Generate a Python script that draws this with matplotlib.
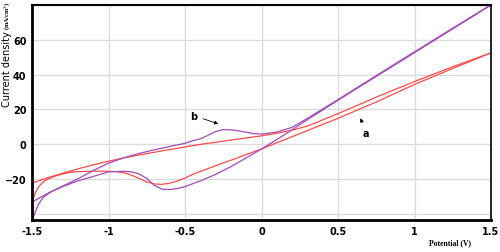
import numpy as np
import matplotlib
matplotlib.use("Agg")
import matplotlib.pyplot as plt

# curve a (red): forward scan -1.5 -> 1.5, then reverse 1.5 -> -1.5
a_fwd_x = [-1.5, -1.4, -1.3, -1.2, -1.1, -1.0, -0.9, -0.8, -0.7, -0.6, -0.5, -0.4,
           -0.3, -0.2, -0.1, 0.0, 0.1, 0.2, 0.3, 0.5, 0.75, 1.0, 1.25, 1.5]
a_fwd_y = [-22.5, -19.5, -16.8, -14.3, -12.0, -9.9, -8.0, -6.3, -4.7, -3.2, -1.7, -0.2,
           1.0, 2.3, 3.5, 4.7, 6.2, 8.0, 10.3, 17.5, 27.0, 36.0, 44.5, 52.5]
a_rev_x = [1.5, 1.25, 1.0, 0.75, 0.5, 0.25, 0.0, -0.1, -0.2, -0.3, -0.4, -0.45, -0.5,
           -0.55, -0.6, -0.65, -0.7, -0.75, -0.8, -0.85, -0.9, -0.95, -1.0, -1.1, -1.2,
           -1.25, -1.3, -1.35, -1.4, -1.43, -1.46, -1.48, -1.5]
a_rev_y = [52.5, 43.5, 34.3, 24.2, 14.8, 6.0, -2.8, -6.1, -9.3, -12.5, -15.8, -17.5, -19.6,
           -21.3, -22.6, -23.2, -23.0, -21.8, -19.8, -17.9, -16.5, -15.9, -15.7, -15.6, -15.9,
           -16.3, -17.2, -18.5, -20.3, -22.0, -25.0, -28.5, -33.4]

# curve b (purple)
b_fwd_x = [-1.5, -1.4, -1.3, -1.2, -1.1, -1.0, -0.9, -0.8, -0.7, -0.6, -0.5, -0.45,
           -0.4, -0.35, -0.3, -0.25, -0.2, -0.15, -0.1, -0.05, 0.0, 0.1, 0.2, 0.3,
           0.5, 0.75, 1.0, 1.25, 1.5]
b_fwd_y = [-33.4, -28.5, -24.2, -20.0, -15.3, -11.0, -7.9, -5.4, -3.3, -1.4, 0.4, 1.9,
           3.0, 5.0, 7.2, 8.3, 8.2, 7.6, 6.8, 6.0, 5.7, 6.9, 9.6, 14.8,
           25.6, 39.4, 53.1, 66.7, 80.2]
b_rev_x = [1.5, 1.25, 1.0, 0.75, 0.5, 0.3, 0.2, 0.1, 0.0, -0.1, -0.2, -0.3, -0.4,
           -0.5, -0.55, -0.6, -0.65, -0.7, -0.75, -0.8, -0.85, -0.9, -1.0, -1.1,
           -1.2, -1.3, -1.38, -1.43, -1.46, -1.48, -1.5]
b_rev_y = [80.0, 66.3, 52.6, 38.9, 25.2, 14.0, 8.2, 2.6, -2.9, -8.0, -13.0, -17.5, -21.2,
           -24.5, -25.6, -26.2, -26.0, -23.8, -19.8, -17.2, -16.0, -15.7, -16.0, -18.7,
           -21.2, -24.5, -27.7, -31.0, -35.0, -39.5, -44.0]

x_ticks = [-1.5, -1, -0.5, 0, 0.5, 1, 1.5]
x_labels = ["-1.5", "-1", "-0.5", "0", "0.5", "1", "1.5"]
y_ticks = [-20, 0, 20, 40, 60]

red = "#ff4a4a"
purple = "#a24bb8"

fig = plt.figure(figsize=(5.0, 2.53), dpi=100)
ax = fig.add_axes([0.064, 0.126, 0.918, 0.85])

ax.plot(a_fwd_x, a_fwd_y, color=red, lw=0.9)
ax.plot(a_rev_x, a_rev_y, color=red, lw=0.9)
ax.plot(b_fwd_x, b_fwd_y, color=purple, lw=0.9)
ax.plot(b_rev_x, b_rev_y, color=purple, lw=0.9)

ax.set_xlim(-1.5, 1.5)
ax.set_ylim(-43.8, 80)
ax.set_xticks(x_ticks)
ax.set_xticklabels(x_labels)
ax.set_yticks(y_ticks)
ax.set_yticks([-40, 80], minor=True)
ax.grid(True, which="both", color="#dcdcdc", lw=1)
ax.set_axisbelow(True)
ax.tick_params(which="both", length=0, labelsize=7, pad=4)
for lab in ax.get_xticklabels() + ax.get_yticklabels():
    lab.set_fontweight("bold")

ax.spines["left"].set_linewidth(2)
ax.spines["bottom"].set_linewidth(2)
ax.spines["top"].set_linewidth(1.5)
ax.spines["right"].set_linewidth(1.2)

# labels
fig.text(7 / 500, 1 - 2 / 253, "(mA/cm$^2$)", rotation=90, ha="center", va="top",
         fontsize=4.5, family="Liberation Serif", fontweight="bold")
fig.text(7 / 500, 1 - 31 / 253, "Current density", rotation=90, ha="center", va="top",
         fontsize=7)
fig.text(450 / 500, 1 - 243 / 253, "Potential (V)", ha="center", va="center",
         fontsize=5.5, family="Liberation Serif", fontweight="bold")

arrow = dict(arrowstyle="-|>", color="black", lw=0.6, mutation_scale=5)
ax.annotate("b", xy=(-0.265, 11.1), xytext=(-0.44, 16.3), fontsize=7, fontweight="bold",
            ha="center", va="center", arrowprops=arrow)
ax.annotate("a", xy=(0.64, 16.3), xytext=(0.685, 6.3), fontsize=7, fontweight="bold",
            ha="center", va="center", arrowprops=arrow)

fig.savefig("out.png", dpi=100)
